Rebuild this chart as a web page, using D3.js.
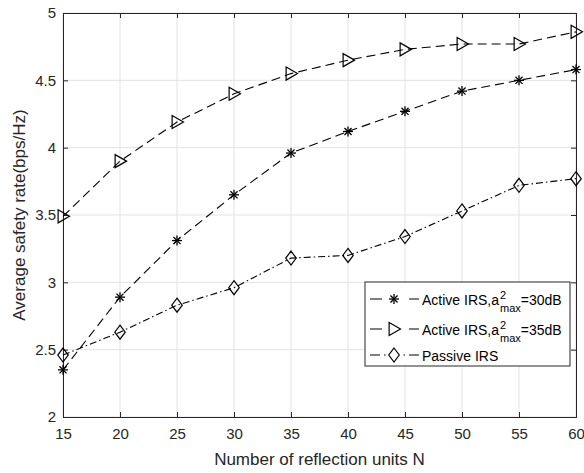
<!DOCTYPE html>
<html><head><meta charset="utf-8">
<script src="https://cdn.jsdelivr.net/npm/d3@7"></script>
<style>body{margin:0;background:#fff}svg{display:block;font-family:"Liberation Sans",Arial,sans-serif}</style>
</head><body><svg id="c" width="584" height="473"></svg>
<script>
const xValues = [15,20,25,30,35,40,45,50,55,60];
const active30 = [2.35,2.89,3.31,3.65,3.96,4.12,4.27,4.42,4.50,4.58];
const active35 = [3.49,3.90,4.19,4.40,4.55,4.65,4.73,4.77,4.77,4.86];
const passive  = [2.46,2.63,2.83,2.96,3.18,3.20,3.34,3.53,3.72,3.77];
const xTicks = [15,20,25,30,35,40,45,50,55,60];
const yTicks = [2,2.5,3,3.5,4,4.5,5];

const svg = d3.select("#c");
const L=63, R=576, T=13, B=417;
const x = d3.scaleLinear().domain([15,60]).range([L,R]);
const y = d3.scaleLinear().domain([2,5]).range([B,T]);
const axc="#262626";

// grid
const g = svg.append("g");
g.selectAll(".gx").data(xTicks).enter().append("line")
 .attr("x1",d=>x(d)).attr("x2",d=>x(d)).attr("y1",T).attr("y2",B)
 .attr("stroke","#e3e3e3").attr("stroke-width",1);
g.selectAll(".gy").data(yTicks).enter().append("line")
 .attr("x1",L).attr("x2",R).attr("y1",d=>y(d)).attr("y2",d=>y(d))
 .attr("stroke","#e3e3e3").attr("stroke-width",1);

// axes
const xa = svg.append("g").attr("transform",`translate(0,${B})`)
 .call(d3.axisBottom(x).tickValues(xTicks).tickSize(-5).tickPadding(11).tickFormat(d3.format("d")));
const xt = svg.append("g").attr("transform",`translate(0,${T})`)
 .call(d3.axisTop(x).tickValues(xTicks).tickSize(-5).tickFormat(""));
const ya = svg.append("g").attr("transform",`translate(${L},0)`)
 .call(d3.axisLeft(y).tickValues(yTicks).tickSize(-5).tickPadding(7).tickFormat(d=>d3.format("")(d)));
const yr = svg.append("g").attr("transform",`translate(${R},0)`)
 .call(d3.axisRight(y).tickValues(yTicks).tickSize(-5).tickFormat(""));
[xa,xt,ya,yr].forEach(a=>{
  a.select(".domain").attr("stroke",axc);
  a.selectAll(".tick line").attr("stroke",axc);
  a.selectAll("text").attr("fill",axc).style("font-size","15px").style("font-family","'Liberation Sans',Arial,sans-serif");
});

// series
const series = [
 {vals:active30, dash:"9,5", marker:"star"},
 {vals:active35, dash:"9,5", marker:"tri"},
 {vals:passive, dash:"7,3,1.5,3", marker:"diamond"}
];
const line = d3.line().x((d,i)=>x(xValues[i])).y(d=>y(d));
function drawMarker(sel, type, cx, cy){
  if(type==="star"){
    const r=5;
    const gg=sel.append("g").attr("transform",`translate(${cx},${cy})`).attr("stroke","#000").attr("stroke-width",1.3);
    for(let k=0;k<4;k++){const a=k*Math.PI/4;
      gg.append("line").attr("x1",-r*Math.cos(a)).attr("y1",-r*Math.sin(a)).attr("x2",r*Math.cos(a)).attr("y2",r*Math.sin(a));}
  } else if(type==="tri"){
    const r=6.5;
    sel.append("path").attr("d",`M${cx+r},${cy} L${cx-r*0.75},${cy-r} L${cx-r*0.75},${cy+r} Z`)
     .attr("fill","none").attr("stroke","#000").attr("stroke-width",1.2);
  } else {
    const r=7;
    sel.append("path").attr("d",`M${cx},${cy-r} L${cx+r*0.75},${cy} L${cx},${cy+r} L${cx-r*0.75},${cy} Z`)
     .attr("fill","none").attr("stroke","#000").attr("stroke-width",1.2);
  }
}
series.forEach(s=>{
  svg.append("path").datum(s.vals).attr("d",line).attr("fill","none")
   .attr("stroke","#000").attr("stroke-width",1.1).attr("stroke-dasharray",s.dash);
  const mg=svg.append("g");
  s.vals.forEach((v,i)=>drawMarker(mg,s.marker,x(xValues[i]),y(v)));
});

// labels
svg.append("text").attr("x",(L+R)/2).attr("y",465).attr("text-anchor","middle")
 .attr("fill",axc).style("font-size","17px").text("Number of reflection units N");
svg.append("text").attr("transform",`translate(25,${(T+B)/2}) rotate(-90)`).attr("text-anchor","middle")
 .attr("fill",axc).style("font-size","17px").text("Average safety rate(bps/Hz)");

// legend
const lg = svg.append("g");
lg.append("rect").attr("x",365).attr("y",282).attr("width",205).attr("height",84)
 .attr("fill","#fff").attr("stroke",axc).attr("stroke-width",1);
const rows=[
 {y:299, dash:"12,27,12", marker:"star", label:"30dB", sub:true},
 {y:329, dash:"12,27,12", marker:"tri", label:"35dB", sub:true},
 {y:355, dash:"10,4,1.5,18,1.5,4,12", marker:"diamond", label:"Passive IRS", sub:false}
];
rows.forEach(r=>{
  lg.append("line").attr("x1",370).attr("x2",419).attr("y1",r.y).attr("y2",r.y)
   .attr("stroke","#000").attr("stroke-width",1.2).attr("stroke-dasharray",r.dash);
  drawMarker(lg,r.marker,394,r.y);
  const t=lg.append("text").attr("x",422).attr("y",r.y+6).attr("fill","#000").style("font-size","14px");
  if(r.sub){
    t.append("tspan").text("Active IRS,a");
    const base = t.node().getComputedTextLength();
    lg.append("text").attr("x",422+base+1).attr("y",r.y).style("font-size","11px").attr("fill","#000").text("2");
    const sub = lg.append("text").attr("x",422+base+1).attr("y",r.y+13).style("font-size","11px").attr("fill","#000").text("max");
    const sw = sub.node().getComputedTextLength();
    lg.append("text").attr("x",422+base+1+sw).attr("y",r.y+6).style("font-size","14px").attr("fill","#000").text("="+r.label);
  } else {
    t.text(r.label);
  }
});
</script></body></html>
